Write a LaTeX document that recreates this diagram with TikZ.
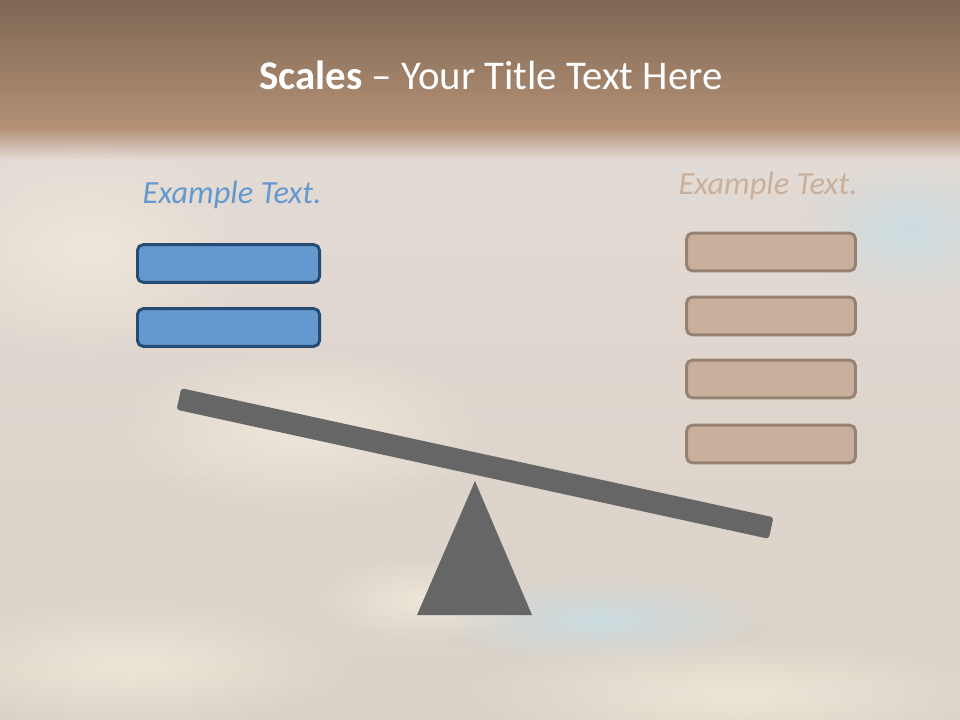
\documentclass[tikz,border=0pt]{standalone}
\usepackage{fontspec}
\setmainfont{Carlito}
\usetikzlibrary{positioning,fadings}
\definecolor{bark}{RGB}{126,103,84}
\definecolor{sand}{RGB}{180,145,118}
\definecolor{haze}{RGB}{226,218,212}
\definecolor{mist}{RGB}{212,206,203}
\definecolor{dusk}{RGB}{218,209,198}
\definecolor{cream}{RGB}{242,234,220}
\definecolor{ice}{RGB}{200,222,230}
\definecolor{sky}{RGB}{100,153,207}
\definecolor{skyline}{RGB}{36,76,116}
\definecolor{clay}{RGB}{201,176,156}
\definecolor{clayline}{RGB}{150,130,114}
\definecolor{slate}{RGB}{102,102,102}
\tikzfading[name=soft,inner color=transparent!20,outer color=transparent!100]
\tikzset{
  tray/.style={draw=#1line,fill=#1,rounded corners=4pt,line width=2.1pt,
    minimum height=0.94cm,inner sep=0pt},
  tray/.default=sky,
  caption/.style={font=\fontsize{23}{28}\selectfont\itshape,text=#1,inner sep=0pt},
  beam/.style={fill=slate,rounded corners=2pt,inner sep=0pt,
    minimum width=15.15cm,minimum height=0.55cm},
  puff/.style={fill=#1,path fading=soft},
  puff/.default=cream,
}
\begin{document}
\begin{tikzpicture}[x=0.025cm,y=-0.025cm]
  \useasboundingbox (0,0) rectangle (960,720);
  % backdrop
  \shade[top color=bark,bottom color=sand] (0,0) rectangle (960,128);
  \shade[top color=sand,bottom color=haze] (0,128) rectangle (960,160);
  \shade[top color=haze,middle color=mist,bottom color=dusk] (0,160) rectangle (960,720);
  % clouds
  \fill[puff] (90,250) ellipse (170 and 110);
  \fill[puff] (300,430) ellipse (190 and 80);
  \fill[puff=ice] (910,230) ellipse (110 and 70);
  \fill[puff=ice] (600,620) ellipse (170 and 45);
  \fill[puff] (130,665) ellipse (230 and 70);
  \fill[puff] (740,695) ellipse (290 and 60);
  \fill[puff] (420,600) ellipse (110 and 45);
  % title
  \node[text=white,font=\fontsize{29}{34}\selectfont,inner sep=0pt] (title) at (491,75)
    {\textbf{Scales} – Your Title Text Here};
  % left pan
  \node[caption=sky] (lcap) at (232,195) {Example Text.};
  \foreach \y [count=\i] in {263.5,327.5}
    \node[tray,minimum width=4.55cm] (l\i) at (228.5,\y) {};
  % right pan
  \node[caption=clay] (rcap) at (768,186) {Example Text.};
  \foreach \y [count=\i] in {252,316,379,444}
    \node[tray=clay,minimum width=4.22cm] (r\i) at (771,\y) {};
  % lever
  \fill[slate] (475,481) -- (532,615) -- (417,615) -- cycle;
  \node[beam,rotate=-12.3] (bar) at (475,463.5) {};
\end{tikzpicture}
\end{document}
